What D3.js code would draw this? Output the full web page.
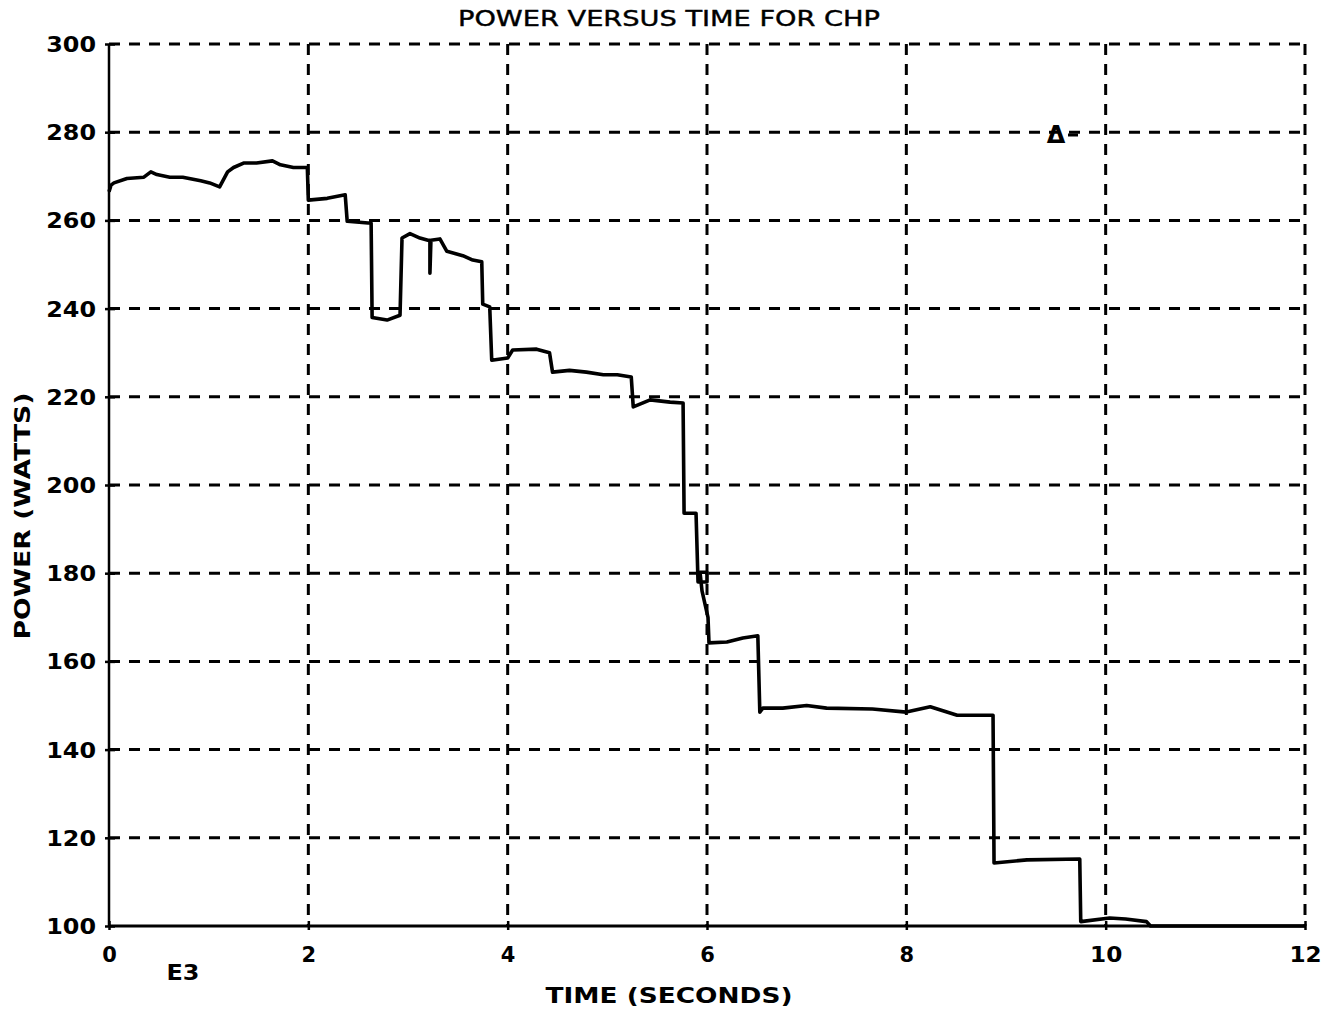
<!DOCTYPE html>
<html><head><meta charset="utf-8">
<script src="https://cdn.jsdelivr.net/npm/d3@7"></script>
<style>html,body{margin:0;padding:0;background:#fff;}svg{display:block;}</style>
</head><body>
<script>
const title = "POWER VERSUS TIME FOR CHP";
const xLabel = "TIME (SECONDS)";
const yLabel = "POWER (WATTS)";
const xScaleNote = "E3";
const xTicks = [0, 2, 4, 6, 8, 10, 12];
const yTicks = [100, 120, 140, 160, 180, 200, 220, 240, 260, 280, 300];
const timeK = [0, 0.02, 0.05, 0.18, 0.35, 0.42, 0.48, 0.61, 0.74, 0.92, 1.01, 1.11, 1.19, 1.25, 1.35, 1.48, 1.64, 1.72, 1.85, 1.99,
  2.0, 2.19, 2.37, 2.39, 2.6, 2.63, 2.64, 2.79, 2.92, 2.94, 3.02, 3.12, 3.2, 3.22, 3.22, 3.23, 3.32, 3.39, 3.55, 3.65, 3.74,
  3.75, 3.82, 3.84, 4.0, 4.05, 4.29, 4.42, 4.45, 4.62, 4.79, 4.96, 5.1, 5.24, 5.26, 5.43, 5.63, 5.76, 5.77, 5.89,
  5.91, 6.0, 6.0, 5.93, 5.95, 6.01, 6.02, 6.2, 6.36, 6.51, 6.53, 6.56, 6.76, 7.0, 7.2, 7.66, 8.0, 8.24, 8.51, 8.87,
  8.88, 9.21, 9.74, 9.75, 10.04, 10.2, 10.41, 10.45, 12];
const powerW = [266.5, 268, 268.5, 269.5, 269.8, 271, 270.4, 269.8, 269.8, 269, 268.5, 267.6, 271, 272, 273, 273, 273.5, 272.6, 272, 272,
  264.6, 265, 265.8, 259.8, 259.4, 259.4, 238, 237.4, 238.5, 256, 257, 256, 255.5, 255.5, 248, 255.5, 255.8, 253, 252, 251, 250.6,
  241, 240.4, 228.3, 228.8, 230.6, 230.8, 230, 225.6, 226, 225.6, 225, 225, 224.5, 217.7, 219.3, 218.8, 218.6, 193.6, 193.6,
  178, 178, 180.2, 180.2, 176, 170, 164.2, 164.4, 165.3, 165.8, 148.5, 149.4, 149.4, 150, 149.4, 149.2, 148.5, 149.7, 147.8, 147.8,
  114.3, 115, 115.2, 101, 101.8, 101.6, 101, 100, 100];

const W = 1333, H = 1011;
const svg = d3.select("body").append("svg").attr("width", W).attr("height", H);
const x = d3.scaleLinear().domain([0, 12]).range([109, 1305]);
const y = d3.scaleLinear().domain([100, 300]).range([926, 44]);
const font = "'DejaVu Sans', sans-serif";
const charW = 17.6;

// grid
const grid = svg.append("g").attr("stroke", "#000").attr("stroke-width", 3).attr("stroke-dasharray", "11 9");
grid.selectAll("line.h").data(yTicks.filter(v => v > 100)).join("line")
  .attr("x1", x(0)).attr("x2", x(12)).attr("y1", d => y(d)).attr("y2", d => y(d));
grid.selectAll("line.v").data(xTicks.filter(v => v > 0)).join("line")
  .attr("y1", y(300)).attr("y2", y(100)).attr("x1", d => x(d)).attr("x2", d => x(d));

// axes (solid)
const yAxis = d3.axisLeft(y).tickValues(yTicks).tickSize(6);
const gy = svg.append("g").attr("transform", `translate(${x(0)},0)`).call(yAxis);
gy.select(".domain").attr("stroke", "#000").attr("stroke-width", 2.5).attr("d", `M0,${y(300)}V${y(100)}`);
gy.selectAll(".tick line").attr("stroke", "#000").attr("stroke-width", 2.5).attr("x2", 6).attr("x1", -4);
gy.selectAll(".tick text").attr("font-family", font).attr("font-weight", "bold").attr("font-size", 21)
  .attr("x", -13).attr("dy", "0.36em").attr("fill", "#000")
  .attr("textLength", d => String(d).length * charW - 3).attr("lengthAdjust", "spacingAndGlyphs");

const xAxis = d3.axisBottom(x).tickValues(xTicks).tickSize(6);
const gx = svg.append("g").attr("transform", `translate(0,${y(100)})`).call(xAxis);
gx.select(".domain").attr("stroke", "#000").attr("stroke-width", 3).attr("d", `M${x(0)},0H${x(12)}`);
gx.selectAll(".tick line").attr("stroke", "#000").attr("stroke-width", 2.5).attr("y1", -5).attr("y2", 4);
gx.selectAll(".tick text").attr("font-family", font).attr("font-weight", "bold").attr("font-size", 21)
  .attr("y", 21).attr("dy", "0.71em").attr("fill", "#000").attr("text-anchor", "middle")
  .attr("textLength", d => String(d).length * charW - 3).attr("lengthAdjust", "spacingAndGlyphs");

// data line
const pts = timeK.map((t, i) => [t, powerW[i]]);
svg.append("path").datum(pts)
  .attr("fill", "none").attr("stroke", "#000").attr("stroke-width", 3.6).attr("stroke-linejoin", "round")
  .attr("d", d3.line().x(d => x(d[0])).y(d => y(d[1])));

// texts
svg.append("text").attr("x", 669).attr("y", 26).attr("text-anchor", "middle")
  .attr("font-family", font).attr("font-size", 21).attr("stroke", "#000").attr("stroke-width", 0.4)
  .attr("textLength", 422).attr("lengthAdjust", "spacingAndGlyphs").text(title);
svg.append("text").attr("x", 669).attr("y", 1003).attr("text-anchor", "middle")
  .attr("font-family", font).attr("font-weight", "bold").attr("font-size", 21)
  .attr("textLength", 247).attr("lengthAdjust", "spacingAndGlyphs").text(xLabel);
svg.append("text").attr("transform", "translate(30,516) rotate(-90)").attr("text-anchor", "middle")
  .attr("font-family", font).attr("font-weight", "bold").attr("font-size", 21)
  .attr("textLength", 247).attr("lengthAdjust", "spacingAndGlyphs").text(yLabel);
svg.append("text").attr("x", 183).attr("y", 980).attr("text-anchor", "middle")
  .attr("font-family", font).attr("font-weight", "bold").attr("font-size", 21)
  .attr("textLength", 33).attr("lengthAdjust", "spacingAndGlyphs").text(xScaleNote);

// marker
svg.append("text").attr("x", 1056).attr("y", 143).attr("text-anchor", "middle")
  .attr("font-family", font).attr("font-weight", "bold").attr("font-size", 24).text("Δ");
svg.append("line").attr("x1", 1068).attr("x2", 1078).attr("y1", 135).attr("y2", 135).attr("stroke", "#000").attr("stroke-width", 3);
</script>
</body></html>
